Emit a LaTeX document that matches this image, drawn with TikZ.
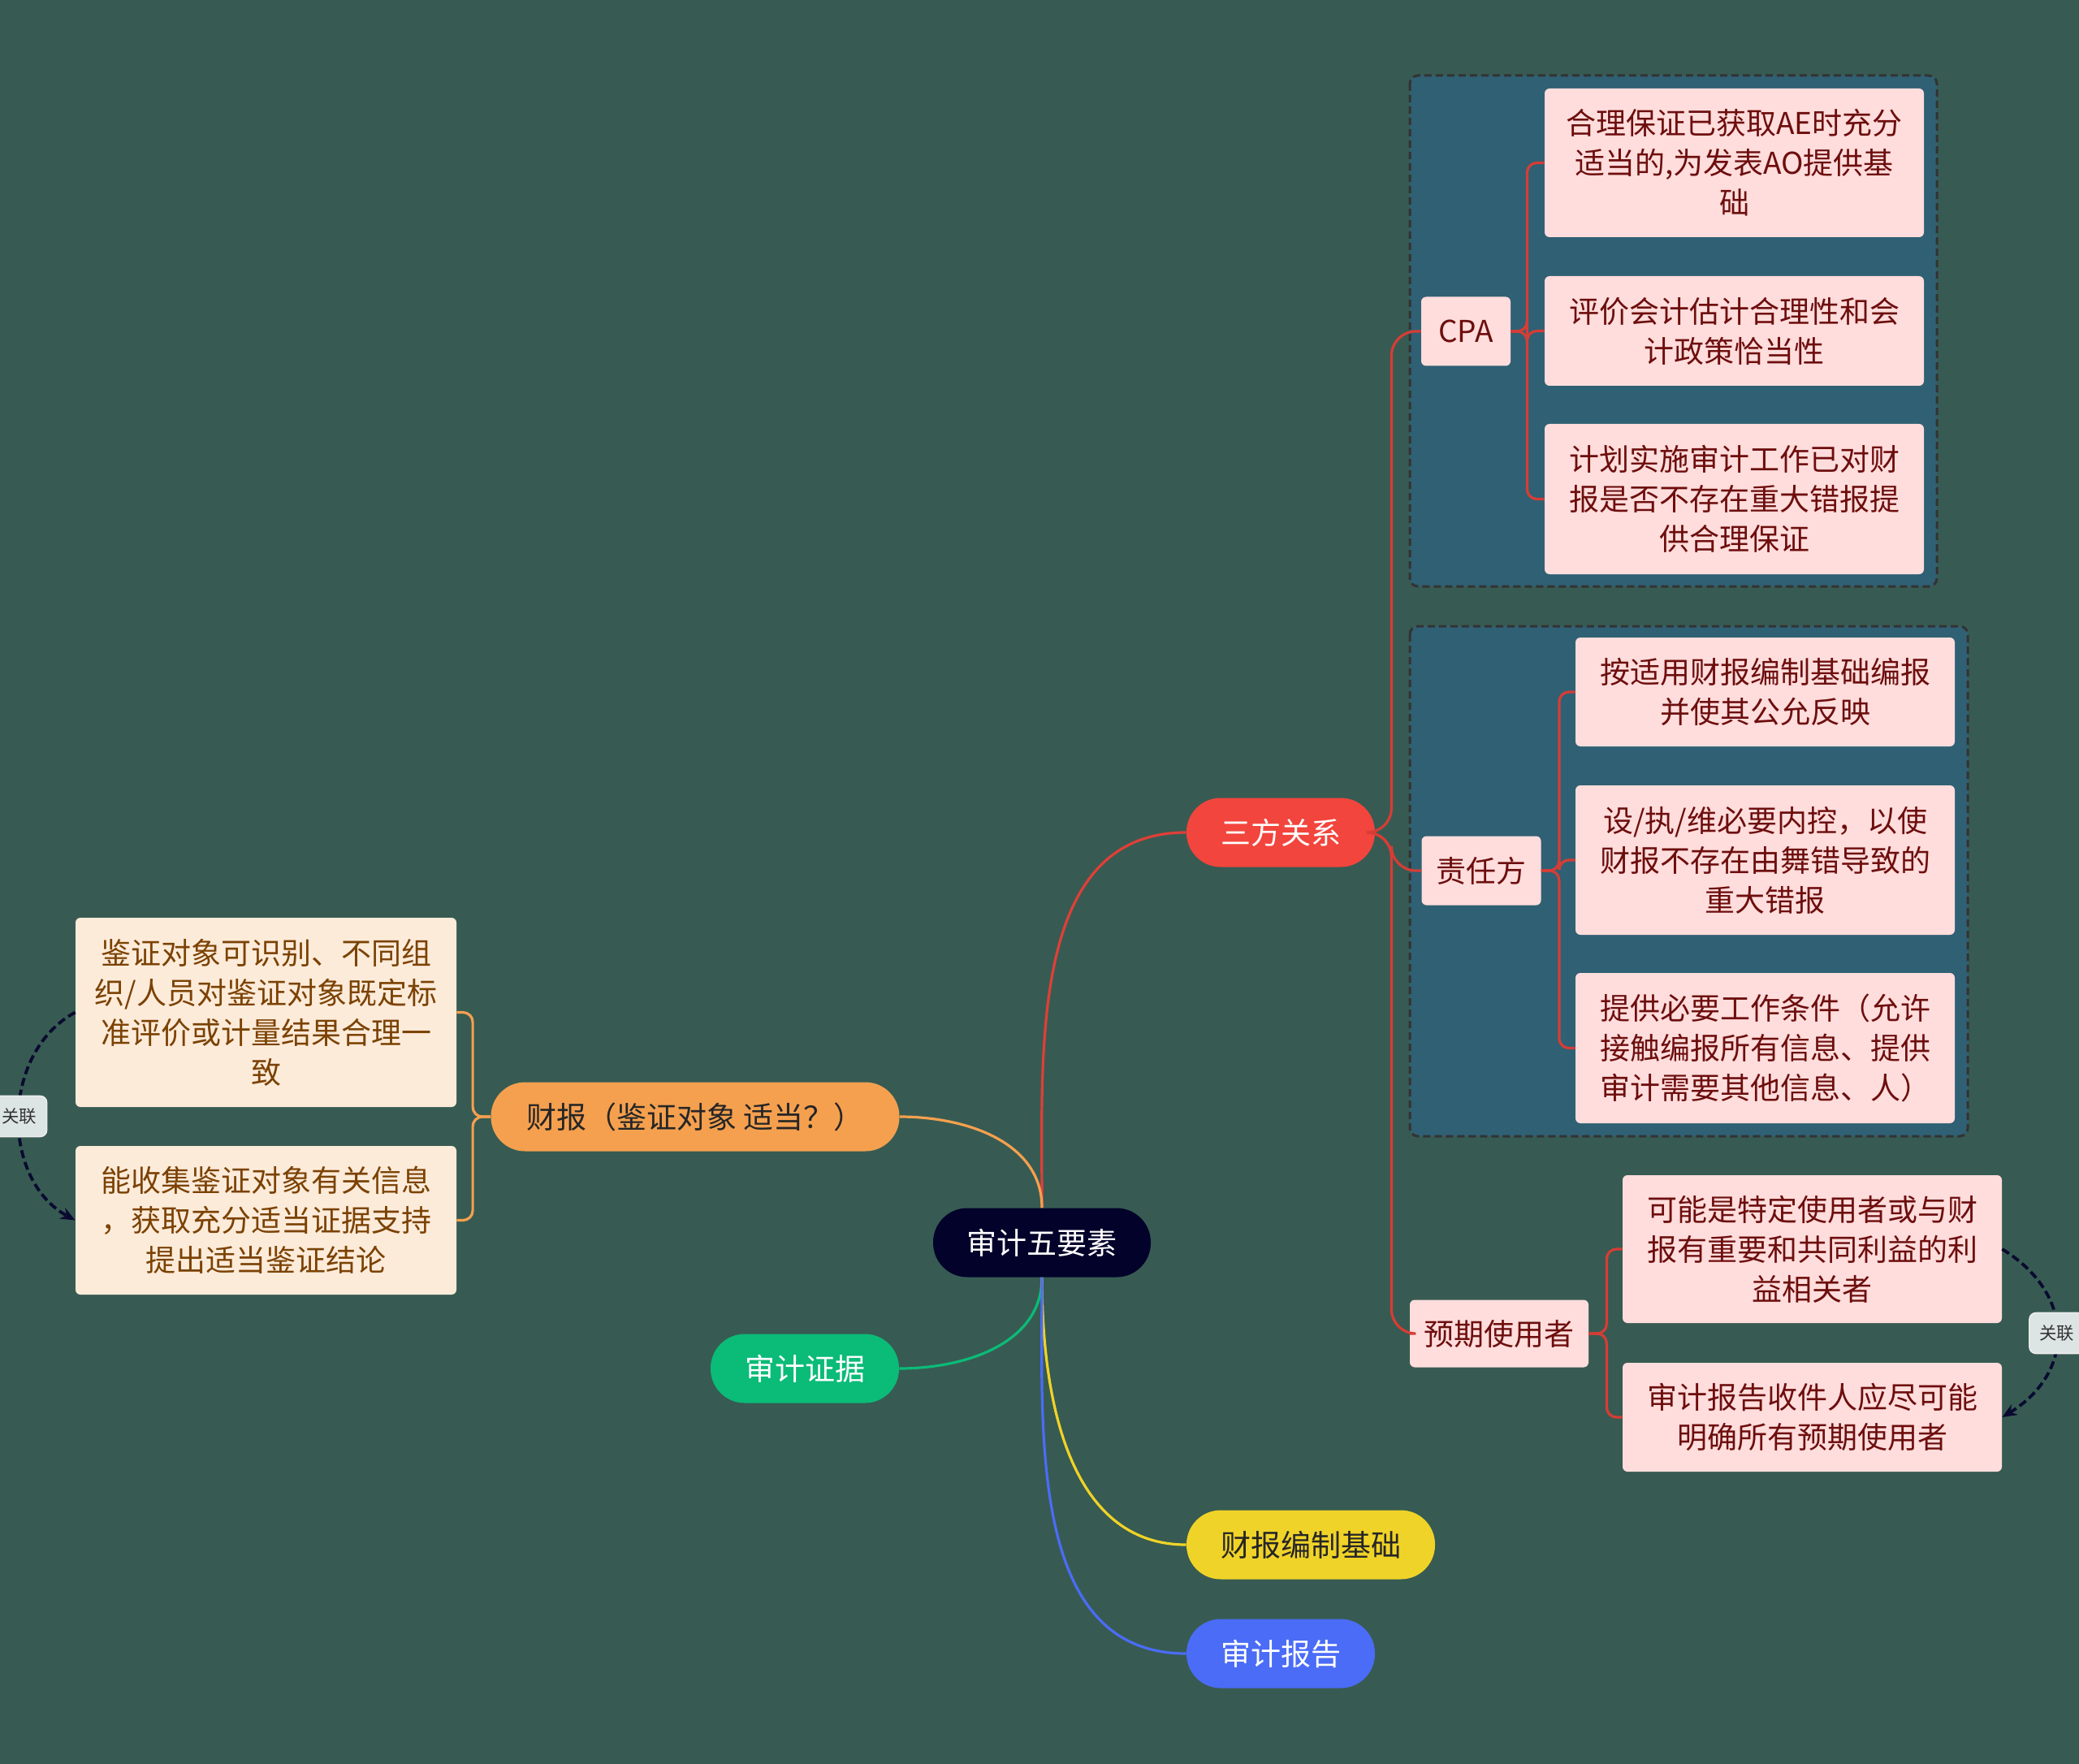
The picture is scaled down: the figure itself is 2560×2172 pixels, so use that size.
\documentclass[tikz,border=0pt]{standalone}
\usepackage{fontspec}
\setmainfont{Noto Sans CJK SC}
\usetikzlibrary{arrows.meta}
\definecolor{bggreen}{HTML}{375B52}
\definecolor{grpblue}{HTML}{306074}
\definecolor{rootnavy}{HTML}{02022A}
\definecolor{topred}{HTML}{F2453D}
\definecolor{toporange}{HTML}{F5A04F}
\definecolor{topgreen}{HTML}{0BBB78}
\definecolor{topyellow}{HTML}{F0D328}
\definecolor{topblue}{HTML}{4B6CF6}
\definecolor{leafpink}{HTML}{FFDDDC}
\definecolor{leafred}{HTML}{6D0E0E}
\definecolor{leafcream}{HTML}{FDEBDA}
\definecolor{leafbrown}{HTML}{7B4203}
\definecolor{relgray}{HTML}{DCE4E4}
\definecolor{relnavy}{HTML}{0A0A30}

\begin{document}
\begin{tikzpicture}[x=0.5pt,y=-0.5pt,>={Stealth[length=9pt,width=7.5pt]},
  every node/.style={font=\fontsize{18.5}{24.5}\selectfont},
  topic/.style={rounded corners=21pt,minimum height=42.5pt,inner sep=0pt},
  sub/.style={fill=leafpink,text=leafred,rounded corners=3pt,minimum height=42.5pt,inner sep=0pt},
  leaf/.style={fill=leafpink,text=leafred,rounded corners=3pt,minimum width=233.5pt,inner sep=0pt,align=center},
  cream/.style={leaf,fill=leafcream,text=leafbrown,minimum width=234.5pt},
  branch/.style={line width=1.6pt},
  bus/.style={draw=topred!88!black,line width=1.6pt,rounded corners=6pt},
  grp/.style={fill=grpblue,draw=black!80,dash pattern=on 4.5pt off 2.5pt,line width=1.5pt,rounded corners=5pt},
  rel/.style={->,draw=relnavy,dash pattern=on 5pt off 2.5pt,line width=1.9pt},
  relbox/.style={solid,fill=relgray,draw=white!85!gray,line width=0.8pt,rounded corners=4pt,minimum width=34pt,minimum height=25pt,inner sep=0pt,text=black!80,font=\fontsize{10.7}{12}\selectfont}]
  \useasboundingbox (0,0) rectangle (2560,2172);
  \fill[bggreen] (0,0) rectangle (2560,2172);

  % group frames
  \draw[grp] (1736,93) rectangle (2385,722);
  \draw[grp] (1736,771) rectangle (2423,1399);

  % main topics
  \node[topic,fill=rootnavy,text=white,minimum width=134pt] (root) at (1283,1530) {审计五要素};
  \node[topic,fill=topred,text=white,minimum width=116pt] (sanfang) at (1577,1025) {三方关系};
  \node[topic,fill=toporange,text=black!85,minimum width=251.5pt] (caibao) at (856,1375) {财报（鉴证对象 适当？）};
  \node[topic,fill=topgreen,text=white,minimum width=116pt] (zhengju) at (991,1685) {审计证据};
  \node[topic,fill=topyellow,text=black!85,minimum width=153pt] (jichu) at (1614,1902) {财报编制基础};
  \node[topic,fill=topblue,text=white,minimum width=116pt] (baogao) at (1577,2036) {审计报告};

  % second level
  \node[sub,minimum width=55pt] (cpa) at (1805,408) {CPA};
  \node[sub,minimum width=73.5pt] (zeren) at (1824,1072) {责任方};
  \node[sub,minimum width=110pt,minimum height=41.5pt] (yuqi) at (1846,1642) {预期使用者};

  % leaves
  \node[leaf,minimum height=91.5pt] (c1) at (2135.5,200.5) {合理保证已获取AE时充分\\适当的,为发表AO提供基\\础};
  \node[leaf,minimum height=67.5pt] (c2) at (2135.5,407.5) {评价会计估计合理性和会\\计政策恰当性};
  \node[leaf,minimum height=92.5pt] (c3) at (2135.5,614.5) {计划实施审计工作已对财\\报是否不存在重大错报提\\供合理保证};
  \node[leaf,minimum height=67pt] (r1) at (2173.5,852) {按适用财报编制基础编报\\并使其公允反映};
  \node[leaf,minimum height=92pt] (r2) at (2173.5,1059) {设/执/维必要内控，以使\\财报不存在由舞错导致的\\重大错报};
  \node[leaf,minimum height=92.5pt] (r3) at (2173.5,1290.5) {提供必要工作条件（允许\\接触编报所有信息、提供\\审计需要其他信息、人）};
  \node[leaf,minimum height=91pt] (u1) at (2231.5,1538) {可能是特定使用者或与财\\报有重要和共同利益的利\\益相关者};
  \node[leaf,minimum height=67pt] (u2) at (2231.5,1745) {审计报告收件人应尽可能\\明确所有预期使用者};
  \node[cream,minimum height=116.5pt] (l1) at (327.5,1246.5) {鉴证对象可识别、不同组\\织/人员对鉴证对象既定标\\准评价或计量结果合理一\\致};
  \node[cream,minimum height=91.5pt] (l2) at (327.5,1502.5) {能收集鉴证对象有关信息\\，获取充分适当证据支持\\提出适当鉴证结论};

  % root branches
  \draw[branch,topred!92!black] (root.north) to[out=90,in=180] (sanfang.west);
  \draw[branch,toporange] (root.north) to[out=90,in=0] (caibao.east);
  \draw[branch,topgreen] (root.south) to[out=-90,in=0] (zhengju.east);
  \draw[branch,topyellow] (root.south) to[out=-90,in=180] (jichu.west);
  \draw[branch,topblue] (root.south) to[out=-90,in=180] (baogao.west);

  % sub branches
  \foreach \s in {cpa,zeren,yuqi}
    \draw[bus,rounded corners=15pt] (sanfang.east) -- ++(20,0) |- (\s.west);
  \foreach \c in {c1,c2,c3}
    \draw[bus] (cpa.east) -- ++(20,0) |- (\c.west);
  \foreach \c in {r1,r2,r3}
    \draw[bus] (zeren.east) -- ++(22,0) |- (\c.west);
  \foreach \c in {u1,u2}
    \draw[bus] (yuqi.east) -- ++(22,0) |- (\c.west);
  \foreach \c in {l1,l2}
    \draw[bus,draw=toporange] (caibao.west) -- ++(-22,0) |- (\c.east);

  % relations
  \draw[rel] (l1.west) .. controls +(-92,50) and +(-92,-50) .. (l2.west) node[relbox,pos=0.5] (rell) {关联};
  \draw[rel] (u1.east) .. controls +(90,55) and +(90,-55) .. (u2.east) node[relbox,pos=0.5] (relr) {关联};
\end{tikzpicture}
\end{document}
